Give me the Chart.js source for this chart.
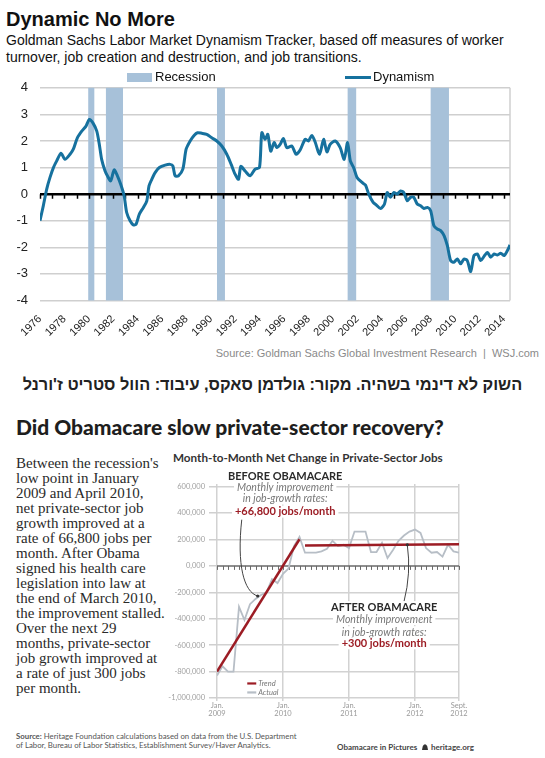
<!DOCTYPE html>
<html>
<head>
<meta charset="utf-8">
<script src="https://cdn.jsdelivr.net/npm/chart.js@4.4.1/dist/chart.umd.min.js"></script>
<style>
html, body { margin: 0; padding: 0; background: #fff; }
body { width: 545px; height: 758px; position: relative; overflow: hidden; font-family: "Liberation Sans", Arial, sans-serif; color: #111; }
.abs { position: absolute; white-space: nowrap; }
#title1 { left: 6px; top: 8px; font-size: 20px; font-weight: bold; }
#sub1 { left: 6px; top: 32px; font-size: 14px; line-height: 17px; }
#legRecBox { left: 127px; top: 73px; width: 25px; height: 9px; background: #a7c1d9; }
#legRec { left: 155px; top: 69px; font-size: 13px; }
#legDynLine { left: 345px; top: 76px; width: 26px; height: 3px; background: #16719e; }
#legDyn { left: 373px; top: 69px; font-size: 13px; }
#wrap1 { left: 0; top: 68px; width: 545px; height: 274px; }
#src1 { right: 6px; top: 347px; font-size: 11px; color: #8a8a8a; }
#heb { left: 0; width: 545px; top: 375px; text-align: center; direction: rtl; font-size: 16.3px; font-weight: bold; color: #222; }
#title2 { left: 16px; top: 414px; font-family: Lato, sans-serif; font-size: 22px; font-weight: 900; color: #1e1e1e; }
#para { left: 16px; top: 456px; font-family: "Liberation Serif", serif; font-size: 15px; line-height: 15px; color: #2a2a2a; }
#title3 { left: 173px; top: 450px; font-family: Lato, sans-serif; font-size: 11.7px; font-weight: bold; color: #333; }
#wrap2 { left: 160px; top: 470px; width: 320px; height: 260px; }
#src2 { left: 16px; top: 732px; font-family: Lato, sans-serif; font-size: 7.8px; line-height: 9px; color: #555; }
#brand { left: 337px; top: 742px; font-family: Lato, sans-serif; font-size: 8px; font-weight: bold; color: #444; }
</style>
</head>
<body>
<div class="abs" id="title1">Dynamic No More</div>
<div class="abs" id="sub1">Goldman Sachs Labor Market Dynamism Tracker, based off measures of worker<br>turnover, job creation and destruction, and job transitions.</div>
<div class="abs" id="wrap1"><canvas id="dynChart"></canvas></div>
<div class="abs" id="legRecBox"></div>
<div class="abs" id="legRec">Recession</div>
<div class="abs" id="legDynLine"></div>
<div class="abs" id="legDyn">Dynamism</div>
<div class="abs" id="src1">Source: Goldman Sachs Global Investment Research&nbsp; |&nbsp; WSJ.com</div>
<div class="abs" id="heb">השוק לא דינמי בשהיה. מקור: גולדמן סאקס, עיבוד: הוול סטריט ז'ורנל</div>

<div class="abs" id="title2">Did Obamacare slow private-sector recovery?</div>
<div class="abs" id="para">Between the recession's<br>low point in January<br>2009 and April 2010,<br>net private-sector job<br>growth improved at a<br>rate of 66,800 jobs per<br>month. After Obama<br>signed his health care<br>legislation into law at<br>the end of March 2010,<br>the improvement stalled.<br>Over the next 29<br>months, private-sector<br>job growth improved at<br>a rate of just 300 jobs<br>per month.</div>
<div class="abs" id="title3">Month-to-Month Net Change in Private-Sector Jobs</div>
<div class="abs" id="wrap2"><canvas id="jobsChart"></canvas></div>
<div class="abs" id="src2"><b>Source:</b> Heritage Foundation calculations based on data from the U.S. Department<br>of Labor, Bureau of Labor Statistics, Establishment Survey/Haver Analytics.</div>
<div class="abs" id="brand">Obamacare in Pictures&nbsp; <svg width="8" height="8" viewBox="0 0 8 8" style="vertical-align:-1px"><path d="M1 7 L1.8 3 Q4 -0.5 6.2 3 L7 7 Z" fill="#333"/></svg>&nbsp;heritage.org</div>

<script>
// ---- top chart: dynamism tracker ----
const dynYears = [1976.0, 1976.27, 1976.55, 1976.82, 1977.1, 1977.37, 1977.72, 1978.05, 1978.46, 1978.73,
  1979.06, 1979.42, 1979.77, 1980.04, 1980.32, 1980.65, 1980.86, 1981.05, 1981.33, 1981.52,
  1981.79, 1982.07, 1982.34, 1982.61, 1982.89, 1983.1, 1983.38, 1983.65, 1983.87, 1984.14,
  1984.47, 1984.75, 1984.93, 1985.16, 1985.43, 1985.78, 1986.25, 1986.66, 1986.88, 1987.07,
  1987.34, 1987.7, 1987.97, 1988.3, 1988.62, 1988.9, 1989.25, 1989.66, 1990.07, 1990.48,
  1990.89, 1991.3, 1991.66, 1991.98, 1992.26, 1992.45, 1992.8, 1993.21, 1993.62, 1993.98,
  1994.17, 1994.44, 1994.66, 1994.9, 1995.18, 1995.4, 1995.67, 1995.94, 1996.22, 1996.63,
  1996.98, 1997.31, 1997.72, 1997.99, 1998.27, 1998.54, 1998.9, 1999.23, 1999.5, 1999.77,
  2000.18, 2000.59, 2000.92, 2001.19, 2001.42, 2001.69, 2001.97, 2002.38, 2002.66, 2002.93,
  2003.29, 2003.56, 2003.89, 2004.22, 2004.44, 2004.71, 2004.98, 2005.26, 2005.53, 2005.8,
  2006.08, 2006.35, 2006.62, 2006.9, 2007.18, 2007.45, 2007.73, 2008.0, 2008.27, 2008.55,
  2008.82, 2009.1, 2009.37, 2009.64, 2009.91, 2010.19, 2010.46, 2010.73, 2011.0, 2011.28,
  2011.55, 2011.83, 2012.1, 2012.37, 2012.65, 2012.92, 2013.2, 2013.47, 2013.74, 2014.02,
  2014.29, 2014.5];
const dynValues = [-1.0, -0.44, 0.19, 0.63, 1.0, 1.25, 1.54, 1.31, 1.5, 1.69,
  2.12, 2.37, 2.56, 2.81, 2.69, 2.37, 1.87, 1.31, 0.87, 0.69,
  0.5, 0.91, 0.69, 0.37, -0.06, -0.69, -1.0, -1.16, -1.13, -0.75,
  -0.5, -0.25, 0.31, 0.56, 0.81, 1.0, 1.09, 1.12, 1.06, 0.69,
  0.69, 0.94, 1.69, 2.0, 2.21, 2.31, 2.29, 2.25, 2.12, 2.0,
  1.81, 1.5, 1.12, 0.75, 0.56, 1.04, 0.87, 0.69, 0.94, 1.0,
  2.31, 2.06, 2.25, 1.62, 1.94, 1.75, 1.87, 2.09, 1.75, 1.81,
  1.5, 1.66, 2.06, 2.0, 2.21, 1.96, 1.5, 2.06, 1.59, 1.87,
  2.0, 1.75, 1.31, 1.94, 1.25, 1.0, 0.63, 0.44, 0.34, 0.0,
  -0.31, -0.41, -0.54, -0.37, 0.06, -0.12, 0.06, 0.0, 0.12, 0.06,
  -0.25, -0.12, -0.12, -0.37, -0.44, -0.54, -0.5, -0.62, -1.19, -1.31,
  -1.37, -1.56, -1.94, -2.5, -2.56, -2.44, -2.62, -2.44, -2.5, -2.91,
  -2.31, -2.25, -2.5, -2.34, -2.19, -2.37, -2.25, -2.29, -2.22, -2.31,
  -2.12, -1.91];
const recessionStart = [1979.95, 1981.4, 1990.5, 2001.2, 2008.0];
const recessionEnd = [1980.45, 1982.8, 1991.15, 2001.9, 2009.5];
const yearLabels = [1976, 1978, 1980, 1982, 1984, 1986, 1988, 1990, 1992, 1994,
  1996, 1998, 2000, 2002, 2004, 2006, 2008, 2010, 2012, 2014];
const dynTicks = [-4, -3, -2, -1, 0, 1, 2, 3, 4];

// ---- bottom chart: private-sector jobs, Jan 2009 .. Sept 2012 ----
const jobActual = [-830, -760, -800, -800, -310, -410, -290, -250, -220, -200,
  -100, -130, -60, -20, 150, 220, 100, 100, 100, 110,
  130, 190, 150, 160, 135, 260, 260, 260, 105, 105,
  175, 60, 120, 190, 230, 260, 275, 250, 135, 100,
  105, 70, 160, 110, 100].map(v => v * 1000);
const trendBeforeMonths = [0, 15];
const trendBeforeValues = [-800000, 202000];
const trendAfterMonths = [16, 44];
const trendAfterValues = [155000, 163700];
const jobTicks = [600000, 400000, 200000, 0, -200000, -400000, -600000, -800000, -1000000];
const monthTicks = [0, 12, 24, 36, 44];
const monthTickLabels = [['Jan.', '2009'], ['Jan.', '2010'], ['Jan.', '2011'], ['Jan.', '2012'], ['Sept.', '2012']];
const beforeNote = ['BEFORE OBAMACARE', 'Monthly improvement', 'in job-growth rates:', '+66,800 jobs/month'];
const afterNote = ['AFTER OBAMACARE', 'Monthly improvement', 'in job-growth rates:', '+300 jobs/month'];

const DYN_BLUE = '#16719e';
const TREND_RED = '#9c1c24';

// squeeze the big headline to the width it has in the original
const fitWidth = (id, target) => {
  const el = document.getElementById(id);
  const w = el.getBoundingClientRect().width;
  const size = parseFloat(getComputedStyle(el).fontSize);
  el.style.fontSize = (size * target / w).toFixed(2) + 'px';
};
fitWidth('title2', 428);

/**
 * Recession bands, zero line with yearly ticks and the right frame line
 */
const dynBackdrop = {
  id: 'dynBackdrop',
  beforeDatasetsDraw(chart) {
    const { ctx, chartArea, scales: { x, y } } = chart;
    ctx.save();
    ctx.fillStyle = '#a7c1d9';
    recessionStart.forEach((s, i) => {
      const x0 = x.getPixelForValue(s);
      const x1 = x.getPixelForValue(recessionEnd[i]);
      ctx.fillRect(x0, chartArea.top, x1 - x0, chartArea.bottom - chartArea.top);
    });
    ctx.strokeStyle = '#cfcfcf';
    ctx.lineWidth = 1.5;
    ctx.beginPath();
    ctx.moveTo(chartArea.right, chartArea.top);
    ctx.lineTo(chartArea.right, chartArea.bottom);
    ctx.stroke();
    const y0 = y.getPixelForValue(0);
    ctx.strokeStyle = '#000';
    ctx.lineWidth = 1.5;
    ctx.beginPath();
    for (let yr = 1976; yr <= 2014; yr++) {
      const px = Math.round(x.getPixelForValue(yr)) + 0.5;
      ctx.moveTo(px, y0);
      ctx.lineTo(px, y0 + 4.5);
    }
    ctx.stroke();
    ctx.lineWidth = 2.5;
    ctx.beginPath();
    ctx.moveTo(chartArea.left, y0);
    ctx.lineTo(chartArea.right, y0);
    ctx.stroke();
    ctx.restore();
  }
};

const drawDynamismChart = () => {
  const element = document.getElementById('dynChart');
  return new Chart(element, {
    type: 'line',
    data: {
      datasets: [{
        label: 'Dynamism',
        data: dynYears.map((yr, i) => ({ x: yr, y: dynValues[i] })),
        borderColor: DYN_BLUE,
        borderWidth: 3,
        pointRadius: 0,
        tension: 0.25,
      }],
    },
    options: {
      responsive: true,
      maintainAspectRatio: false,
      animation: false,
      layout: { padding: { left: 0, right: 35, top: 8, bottom: 0 } },
      plugins: { legend: { display: false }, tooltip: { enabled: false } },
      scales: {
        x: {
          type: 'linear',
          min: 1976,
          max: 2014.5,
          afterBuildTicks: (scale) => { scale.ticks = yearLabels.map(v => ({ value: v })); },
          afterFit: (scale) => { scale.height = 41.5; },
          grid: { display: false },
          border: { display: false },
          ticks: {
            minRotation: 45,
            maxRotation: 45,
            padding: 4,
            color: '#222',
            font: { family: 'Liberation Sans', size: 11 },
            callback: (v) => String(v),
          },
        },
        y: {
          min: -4,
          max: 4,
          afterBuildTicks: (scale) => { scale.ticks = dynTicks.map(v => ({ value: v })); },
          afterFit: (scale) => { scale.width = 40; },
          border: { display: false },
          grid: {
            color: (c) => (c.tick && c.tick.value === 0 ? 'rgba(0,0,0,0)' : '#cfcfcf'),
            lineWidth: 1.5,
            drawTicks: false,
          },
          ticks: {
            padding: 12,
            color: '#222',
            font: { family: 'Liberation Sans', size: 13 },
          },
        },
      },
    },
    plugins: [dynBackdrop],
  });
};

/**
 * Zero axis with monthly ticks
 */
const jobsBackdrop = {
  id: 'jobsBackdrop',
  beforeDatasetsDraw(chart) {
    const { ctx, chartArea, scales: { x, y } } = chart;
    const y0 = y.getPixelForValue(0);
    ctx.save();
    ctx.strokeStyle = '#6a6a6a';
    ctx.lineWidth = 1;
    ctx.beginPath();
    for (let m = 0; m <= 44; m++) {
      const px = Math.round(x.getPixelForValue(m)) + 0.5;
      ctx.moveTo(px, y0);
      ctx.lineTo(px, y0 + 4);
    }
    ctx.stroke();
    ctx.lineWidth = 1.5;
    ctx.beginPath();
    ctx.moveTo(chartArea.left, y0);
    ctx.lineTo(chartArea.right, y0);
    ctx.stroke();
    ctx.restore();
  }
};

/**
 * Text call-outs, arrows and the small Trend / Actual key
 */
const noteRows = (ctx, lines, cx, rowsY) => {
  const styles = [
    { font: 'bold 11px Lato', color: '#2a2a2a' },
    { font: 'italic 10.5px Lato', color: '#777' },
    { font: 'italic 10.5px Lato', color: '#777' },
    { font: 'bold 11px Lato', color: TREND_RED },
  ];
  ctx.textAlign = 'center';
  ctx.textBaseline = 'middle';
  lines.forEach((t, i) => {
    ctx.font = styles[i].font;
    const w = ctx.measureText(t).width;
    ctx.fillStyle = '#fff';
    ctx.fillRect(cx - w / 2 - 3, rowsY[i] - 6, w + 6, 12);
    ctx.fillStyle = styles[i].color;
    ctx.fillText(t, cx, rowsY[i]);
  });
};

const jobsNotes = {
  id: 'jobsNotes',
  afterDatasetsDraw(chart) {
    const { ctx, scales: { x, y } } = chart;
    ctx.save();
    // arrows
    ctx.strokeStyle = '#444';
    ctx.lineWidth = 1;
    const bx0 = x.getPixelForValue(4.5), by0 = y.getPixelForValue(350000);
    const bx1 = x.getPixelForValue(7.4), by1 = y.getPixelForValue(-228000);
    ctx.beginPath();
    ctx.moveTo(bx0, by0);
    ctx.bezierCurveTo(bx0 - 5, by0 + 45, bx0 + 2, by1 - 4, bx1, by1);
    ctx.stroke();
    const ax0 = x.getPixelForValue(34.0), ay0 = y.getPixelForValue(-270000);
    const ax1 = x.getPixelForValue(34.6), ay1 = y.getPixelForValue(160000);
    ctx.beginPath();
    ctx.moveTo(ax0, ay0);
    ctx.quadraticCurveTo(ax1 + 4, (ay0 + ay1) / 2, ax1, ay1);
    ctx.stroke();
    ctx.fillStyle = '#333';
    [[bx1, by1], [ax1, ay1]].forEach(([px, py]) => {
      ctx.beginPath();
      ctx.arc(px, py, 1.6, 0, Math.PI * 2);
      ctx.fill();
    });
    // call-outs
    noteRows(ctx, beforeNote, x.getPixelForValue(12.4),
      [677000, 593000, 510000, 411000].map(v => y.getPixelForValue(v)));
    noteRows(ctx, afterNote, x.getPixelForValue(30.4),
      [-312000, -403000, -502000, -586000].map(v => y.getPixelForValue(v)));
    // key
    const kx = x.getPixelForValue(5.5);
    const keys = [['Trend', TREND_RED, -890000], ['Actual', '#b7bec6', -958000]];
    ctx.textAlign = 'left';
    ctx.font = 'italic 7.5px Lato';
    keys.forEach(([label, color, v]) => {
      const ky = y.getPixelForValue(v);
      ctx.strokeStyle = color;
      ctx.lineWidth = 2.2;
      ctx.beginPath();
      ctx.moveTo(kx, ky);
      ctx.lineTo(kx + 9, ky);
      ctx.stroke();
      ctx.fillStyle = '#777';
      ctx.fillText(label, kx + 11, ky);
    });
    ctx.restore();
  }
};

const fmtJobs = (v) => (v === 0 ? '0,000' : v.toLocaleString('en-US'));

const drawJobsChart = () => {
  const element = document.getElementById('jobsChart');
  return new Chart(element, {
    type: 'line',
    data: {
      datasets: [
        {
          label: 'Actual',
          data: jobActual.map((v, i) => ({ x: i, y: v })),
          borderColor: '#b7bec6',
          borderWidth: 1.8,
          pointRadius: 0,
          order: 2,
        },
        {
          label: 'Trend',
          data: trendBeforeMonths.map((m, i) => ({ x: m, y: trendBeforeValues[i] })),
          borderColor: TREND_RED,
          borderWidth: 2.5,
          pointRadius: 0,
          order: 1,
        },
        {
          label: 'Trend after',
          data: trendAfterMonths.map((m, i) => ({ x: m, y: trendAfterValues[i] })),
          borderColor: TREND_RED,
          borderWidth: 2.5,
          pointRadius: 0,
          order: 1,
        },
      ],
    },
    options: {
      responsive: true,
      maintainAspectRatio: false,
      animation: false,
      layout: { padding: { left: 0, right: 21, top: 14, bottom: 0 } },
      plugins: { legend: { display: false }, tooltip: { enabled: false } },
      scales: {
        x: {
          type: 'linear',
          min: 0,
          max: 44,
          afterBuildTicks: (scale) => { scale.ticks = monthTicks.map(v => ({ value: v })); },
          afterFit: (scale) => { scale.height = 32; },
          border: { display: false },
          grid: { color: '#d2d2d2', lineWidth: 1.5, tickLength: 3 },
          ticks: {
            padding: 1,
            maxRotation: 0,
            color: '#9a9a9a',
            font: { family: 'Lato', size: 7.5, lineHeight: 1.05 },
            callback: (v) => monthTickLabels[monthTicks.indexOf(v)],
          },
        },
        y: {
          min: -1000000,
          max: 620000,
          afterBuildTicks: (scale) => { scale.ticks = jobTicks.map(v => ({ value: v })); },
          afterFit: (scale) => { scale.width = 57; },
          border: { display: false },
          grid: {
            color: (c) => (c.tick && c.tick.value === 0 ? 'rgba(0,0,0,0)' : '#d2d2d2'),
            lineWidth: 1.5,
            tickLength: 8,
            tickColor: '#cfcfcf',
          },
          ticks: {
            padding: 4,
            color: '#a0a0a0',
            font: { family: 'Lato', size: 7.5 },
            callback: fmtJobs,
          },
        },
      },
    },
    plugins: [jobsBackdrop, jobsNotes],
  });
};

drawDynamismChart();
drawJobsChart();
</script>
</body>
</html>
